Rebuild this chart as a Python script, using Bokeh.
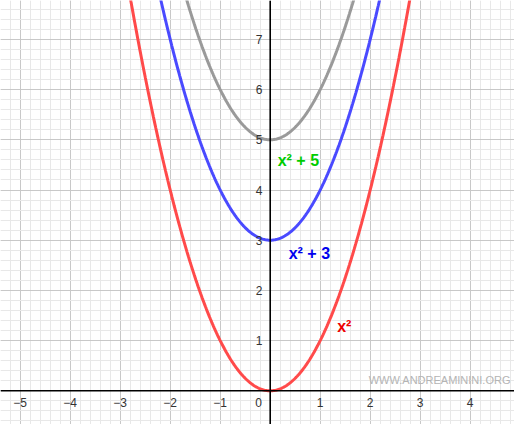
import numpy as np
from bokeh.plotting import figure
from bokeh.models import Range1d, Grid, SingleIntervalTicker, Span, ColumnDataSource
from bokeh.core.properties import value
from bokeh.embed import file_html
from bokeh.resources import INLINE

# ---- data ----
offsets = [0, 3, 5]                      # y = x^2 + c
curve_colors = ["#ff4a4a", "#4a4aff", "#9a9a9a"]
label_texts = ["x²", "x² + 3", "x² + 5"]
label_colors = ["#ee0000", "#0000ee", "#00cc00"]
label_x = [1.34, 0.37, 0.15]
label_y = [1.28, 2.73, 4.59]
x_ticks = [-5, -4, -3, -2, -1, 1, 2, 3, 4]
x_tick_labels = ["−5", "−4", "−3", "−2", "−1", "1", "2", "3", "4"]
y_ticks = [1, 2, 3, 4, 5, 6, 7]
y_tick_labels = ["1", "2", "3", "4", "5", "6", "7"]
watermark = "WWW.ANDREAMININI.ORG"

p = figure(width=514, height=424, output_backend="svg", toolbar_location=None,
           x_axis_location=None, y_axis_location=None,
           x_range=Range1d(-5.394, 4.886), y_range=Range1d(-0.671, 7.775),
           min_border=0, outline_line_color=None, background_fill_color="white")
p.grid.visible = False

for dim in (0, 1):
    g = Grid(dimension=dim, ticker=SingleIntervalTicker(interval=1, num_minor_ticks=5),
             grid_line_color="#c8c8c8", grid_line_width=1,
             minor_grid_line_color="#e8e8e8", minor_grid_line_width=1)
    p.add_layout(g)

p.add_layout(Span(location=0, dimension="width", line_color="black", line_width=1.6))
p.add_layout(Span(location=0, dimension="height", line_color="black", line_width=1.6))

xs = np.linspace(-3.2, 3.2, 401)
for c, col in zip(offsets, curve_colors):
    p.line(xs, xs ** 2 + c, line_color=col, line_width=3)

font = value("Liberation Sans")
p.text(x=x_ticks, y=[-0.24] * len(x_ticks), text=x_tick_labels, text_font=font,
       text_font_size="12px", text_color="#333333", text_align="center",
       text_baseline="middle")
p.text(x=[-0.23], y=[-0.24], text=["0"], text_font=font, text_font_size="12px",
       text_color="#333333", text_align="center", text_baseline="middle")
p.text(x=[-0.22] * len(y_ticks), y=y_ticks, text=y_tick_labels, text_font=font,
       text_font_size="12px", text_color="#333333", text_align="center",
       text_baseline="middle")

src = ColumnDataSource(dict(x=label_x, y=label_y, t=label_texts, c=label_colors))
p.text(x="x", y="y", text="t", text_color="c", source=src, text_font=font,
       text_font_size="16px", text_font_style="bold", text_align="left",
       text_baseline="alphabetic")

p.text(x=[1.97], y=[0.225], text=[watermark], text_font=font, text_font_size="11px",
       text_color="#b4b4b4", text_align="left", text_baseline="middle")

open("out.html", "w").write(file_html(p, INLINE))
